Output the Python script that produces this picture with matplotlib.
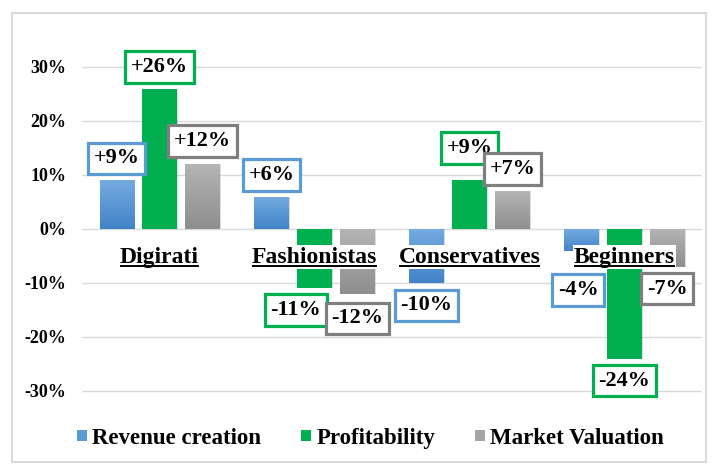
import matplotlib
matplotlib.use("Agg")
import matplotlib.pyplot as plt
import numpy as np
from matplotlib.patches import Rectangle
from matplotlib.colors import LinearSegmentedColormap

segments = ["Digirati", "Fashionistas", "Conservatives", "Beginners"]
series = ["Revenue creation", "Profitability", "Market Valuation"]
revenue = [0.09, 0.06, -0.10, -0.04]
profit = [0.26, -0.11, 0.09, -0.24]
market = [0.12, -0.12, 0.07, -0.07]
yticks = [-0.3, -0.2, -0.1, 0.0, 0.1, 0.2, 0.3]

fill_cols = ["#5B9BD5", "#00B050", "#A5A5A5"]
edge_cols = ["#5B9BD5", "#00B050", "#7F7F7F"]
# top -> bottom gradient colours (None = flat)
grads = [("#74ABE0", "#4283C8"), None, ("#B4B4B4", "#8E8E8E")]

plt.rcParams["font.family"] = ["Liberation Serif", "DejaVu Serif"]
plt.rcParams["font.weight"] = "bold"

fig = plt.figure(figsize=(7.13, 4.66), dpi=100)
fig.patches.append(Rectangle((12 / 713, 4 / 466), 694 / 713, 449 / 466,
                             transform=fig.transFigure, fill=False,
                             edgecolor="#D9D9D9", lw=1.5))
ax = fig.add_axes([0.115, 0.1262, 0.8695, 0.7764])

x = np.arange(len(segments))
width = 0.22
step = 0.277
data = [revenue, profit, market]

ramp = np.linspace(0, 1, 64).reshape(-1, 1)
for k, vals in enumerate(data):
    xs = x + (k - 1) * step
    # soft shadow
    ax.bar(xs + 0.012, vals, width, color="#000000", alpha=0.13, zorder=1)
    bars = ax.bar(xs, vals, width, color=fill_cols[k], label=series[k],
                  zorder=2)
    if grads[k] is not None:
        cmap = LinearSegmentedColormap.from_list("g%d" % k, grads[k])
        for b in bars:
            x0, y0 = b.get_x(), b.get_y()
            h = b.get_height()
            top, bot = max(y0, y0 + h), min(y0, y0 + h)
            im = ax.imshow(ramp, cmap=cmap, aspect="auto", origin="upper",
                           extent=[x0, x0 + width, bot, top], zorder=2.5)
            im.set_clip_path(b)

# value labels
offsets = [[0.041, 0.04, -0.041, -0.073],
           [0.04, -0.04, 0.06, -0.041],
           [0.043, -0.045, 0.041, -0.041]]
dx = [[0, 0, 0, -0.02], [0, -0.12, 0, 0], [0, 0, 0, 0]]
for k, vals in enumerate(data):
    for i, v in enumerate(vals):
        txt = ("+" if v > 0 else "-") + "%d%%" % round(abs(v) * 100)
        ax.text(x[i] + (k - 1) * step + dx[k][i], v + offsets[k][i], txt,
                ha="center", va="center", fontsize=16, fontweight="bold",
                zorder=6, clip_on=False,
                bbox=dict(boxstyle="square,pad=0.25", fc="white",
                          ec=edge_cols[k], lw=2.3))

# category labels with underline
cat_texts = []
for i, s in enumerate(segments):
    t = ax.text(x[i], -0.052, s, ha="center", va="center", fontsize=17,
                fontweight="bold", zorder=4,
                bbox=dict(boxstyle="square,pad=0.05", fc="white", ec="none"))
    cat_texts.append(t)

ax.set_xlim(-0.5, 3.5)
ax.set_ylim(-0.33, 0.34)
ax.set_yticks(yticks)
ax.set_yticklabels(["%d%%" % round(t * 100) for t in yticks])
ax.tick_params(axis="y", length=0, labelsize=13, pad=11)
ax.set_xticks([])
for sp in ax.spines.values():
    sp.set_visible(False)
ax.grid(axis="y", color="#D9D9D9", lw=1, zorder=0)
ax.set_axisbelow(True)

fig.canvas.draw()
r = fig.canvas.get_renderer()
inv = ax.transData.inverted()
for t in cat_texts:
    bb = t.get_window_extent(r)
    (x0, y0), (x1, _) = inv.transform([(bb.x0 + 1, bb.y0 + 2), (bb.x1 - 1, bb.y0)])
    ax.plot([x0, x1], [y0, y0], color="black", lw=1.4, zorder=5)

fig.legend(loc="center", bbox_to_anchor=(0.52, 0.06), ncol=3, frameon=False,
           fontsize=16.5, handlelength=0.4, handleheight=0.4,
           handletextpad=0.25, columnspacing=1.75)

fig.savefig("out.png", dpi=100)
